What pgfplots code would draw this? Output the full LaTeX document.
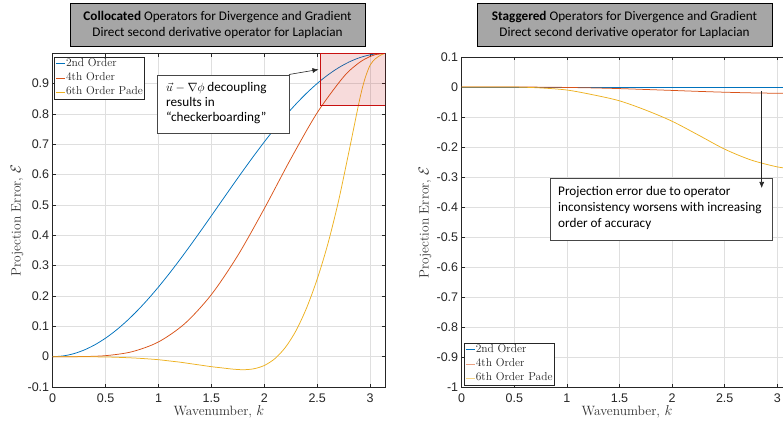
\documentclass[border=0pt]{standalone}
\usepackage{pgfplots}
\pgfplotsset{compat=1.18}
\usepackage{fontspec}
\newfontfamily\arialf{Liberation Sans}
\newfontfamily\calf{Carlito}
\usetikzlibrary{arrows.meta}

\definecolor{mblue}{RGB}{0,114,189}
\definecolor{morange}{RGB}{217,83,25}
\definecolor{myellow}{RGB}{237,177,32}
\definecolor{axgray}{RGB}{38,38,38}
\definecolor{titlegray}{RGB}{166,166,166}
\definecolor{boxred}{RGB}{200,16,16}
\definecolor{annogray}{RGB}{70,70,70}

\pgfplotsset{
 mystyle/.style={
  scale only axis,
  xmin=0, xmax=3.14159,
  axis line style={axgray, line width=0.7pt},
  grid=major, grid style={gray!25, line width=0.6pt},
  tick style={axgray, line width=0.6pt},
  major tick length=3.5pt,
  tick align=inside,
  xtick={0,0.5,1,1.5,2,2.5,3},
  xticklabels={0,0.5,1,1.5,2,2.5,3},
  tick label style={font=\arialf\fontsize{12.5}{14}\selectfont, text=axgray},
  xticklabel style={yshift=-3pt},
  label style={font=\fontsize{13.5}{16}\selectfont, text=black!80},
  xlabel={Wavenumber, $k$},
  ylabel={Projection Error, $\mathcal{E}$},
  legend style={draw=axgray, line width=0.6pt, fill=white,
    font=\fontsize{11.5}{13}\selectfont, text=black!85,
    cells={anchor=west}, inner xsep=1pt, inner ysep=1pt, row sep=2.5pt,
    nodes={inner sep=0.6pt, text height=8pt, text depth=2.5pt}},
  legend image code/.code={\draw[#1, line width=0.9pt] (0pt,0pt) -- (9pt,0pt);},
  every axis plot/.append style={line width=0.75pt, smooth},
 }
}

\begin{document}
\begin{tikzpicture}

% ---------------- Left: Collocated ----------------
\begin{axis}[mystyle,
  at={(52.7pt,36pt)}, anchor=south west,
  width=332.4pt, height=333.7pt,
  ymin=-0.1, ymax=1,
  ytick={-0.1,0,0.1,0.2,0.3,0.4,0.5,0.6,0.7,0.8,0.9},
  yticklabels={-0.1,0,0.1,0.2,0.3,0.4,0.5,0.6,0.7,0.8,0.9},
  xlabel style={at={(axis description cs:0.5,-0.0734)}, anchor=center},
  ylabel style={at={(axis description cs:-0.1074,0.5)}, anchor=center},
  legend style={at={(0.0048,0.9898)}, anchor=north west},
]
\addplot[mblue] coordinates {
(0,0) (0.1,0.002498) (0.2,0.009967) (0.3,0.022332) (0.4,0.039470)
(0.5,0.061209) (0.6,0.087332) (0.7,0.117579) (0.8,0.151647) (0.9,0.189195)
(1.0,0.229849) (1.1,0.273201) (1.2,0.318821) (1.3,0.366250) (1.4,0.415016)
(1.5,0.464631) (1.6,0.514600) (1.7,0.564422) (1.8,0.613601) (1.9,0.661645)
(2.0,0.708073) (2.1,0.752423) (2.2,0.794250) (2.3,0.833138) (2.4,0.868697)
(2.5,0.900572) (2.6,0.928444) (2.7,0.952036) (2.8,0.971111) (2.9,0.985479)
(3.0,0.994996) (3.1,0.999568) (3.14159,1)
};
\addlegendentry{2nd Order}
\addplot[morange] coordinates {
(0,0) (0.25,0.0002) (0.5,0.00335) (0.75,0.01634) (1.0,0.04863)
(1.25,0.10951) (1.5,0.20476) (1.75,0.33382) (2.0,0.48821) (2.25,0.65197)
(2.5,0.80414) (2.75,0.92279) (2.9,0.96999) (3.0,0.98960) (3.05,0.99564) (3.14159,1)
};
\addlegendentry{4th Order}
\addplot[myellow] coordinates {
(0,0) (0.1,0) (0.2,0) (0.3,-0.0003) (0.4,-0.0006) (0.5,-0.001)
(0.6,-0.002) (0.7,-0.0033) (0.8,-0.005) (0.9,-0.0073) (1.0,-0.010)
(1.1,-0.014) (1.2,-0.018) (1.3,-0.023) (1.4,-0.028) (1.5,-0.033)
(1.6,-0.037) (1.7,-0.041) (1.8,-0.043) (1.9,-0.040) (2.0,-0.029)
(2.1,-0.0065) (2.2,0.031) (2.3,0.086) (2.4,0.161) (2.5,0.256)
(2.6,0.371) (2.7,0.511) (2.8,0.676) (2.9,0.846) (2.95,0.915)
(3.0,0.961) (3.05,0.982) (3.1,0.994) (3.14159,1)
};
\addlegendentry{6th Order Pade}
\fill[boxred, fill opacity=0.15] (axis cs:2.53,0.827) rectangle (axis cs:3.14159,1);
\draw[boxred, line width=1.1pt] (axis cs:2.53,0.827) rectangle (axis cs:3.14159,1);
\end{axis}

% ---------------- Right: Staggered ----------------
\begin{axis}[mystyle,
  at={(461.7pt,35.7pt)}, anchor=south west,
  width=330.5pt, height=330.3pt,
  ymin=-1, ymax=0.1,
  ytick={-1,-0.9,-0.8,-0.7,-0.6,-0.5,-0.4,-0.3,-0.2,-0.1,0,0.1},
  yticklabels={-1,-0.9,-0.8,-0.7,-0.6,-0.5,-0.4,-0.3,-0.2,-0.1,0,0.1},
  xlabel style={at={(axis description cs:0.5,-0.0733)}, anchor=center},
  ylabel style={at={(axis description cs:-0.111,0.5)}, anchor=center},
  legend style={at={(0.007,0.006)}, anchor=south west},
]
\addplot[mblue, forget plot] coordinates {(0,0) (1.5,0) (3.14159,0)};
\addplot[morange, forget plot] coordinates {
(0,0) (0.5,-0.0001) (0.75,-0.0004) (1.0,-0.0014) (1.25,-0.003) (1.5,-0.0052)
(1.75,-0.0082) (2.0,-0.0113) (2.25,-0.0145) (2.5,-0.0173) (2.75,-0.0195)
(3.0,-0.0207) (3.14159,-0.0208)
};
\addplot[myellow, forget plot] coordinates {
(0,0) (0.25,0) (0.5,0) (0.75,-0.003) (1.0,-0.010) (1.25,-0.026) (1.5,-0.046)
(1.75,-0.077) (2.0,-0.114) (2.25,-0.160) (2.5,-0.207) (2.75,-0.243)
(3.0,-0.266) (3.14159,-0.272)
};
\addlegendimage{mblue}
\addlegendentry{2nd Order}
\addlegendimage{morange!55!white}
\addlegendentry{4th Order}
\addlegendimage{myellow!55!white}
\addlegendentry{6th Order Pade}
\end{axis}

% ---------------- Titles ----------------
\node[draw=black, line width=0.8pt, fill=titlegray, minimum width=295pt, minimum height=43pt,
  align=center, inner sep=0pt, font=\calf\fontsize{13.2}{16}\selectfont]
  at (217.5pt,398.5pt) {\textbf{Collocated} Operators for Divergence and Gradient\\Direct second derivative operator for Laplacian};
\node[draw=black, line width=0.8pt, fill=titlegray, minimum width=295pt, minimum height=43pt,
  align=center, inner sep=0pt, font=\calf\fontsize{13.2}{16}\selectfont]
  at (624.5pt,398.5pt) {\textbf{Staggered} Operators for Divergence and Gradient\\Direct second derivative operator for Laplacian};

% ---------------- Annotations ----------------
\draw[annogray, line width=0.9pt, fill=white] (157pt,348pt) rectangle (289pt,290pt);
\node[anchor=west, align=left, inner sep=0pt, font=\calf\fontsize{13.2}{15}\selectfont]
  at (166pt,320pt) {$\vec{u}-\nabla\phi$ decoupling\\results in\\“checkerboarding”};
\draw[-{Latex[length=6pt,width=5pt]}, line width=0.6pt, black!85] (289pt,348.5pt) -- (318.5pt,353.5pt);

\draw[annogray, line width=0.9pt, fill=white] (550pt,244.3pt) rectangle (772pt,182.3pt);
\node[anchor=west, align=left, inner sep=0pt, font=\calf\fontsize{13.2}{16}\selectfont]
  at (558pt,214.7pt) {Projection error due to operator\\inconsistency worsens with increasing\\order of accuracy};
\draw[-{Latex[length=6pt,width=5pt]}, line width=0.6pt, black!85] (761.7pt,332pt) -- (761.7pt,235pt);

\pgfresetboundingbox
\useasboundingbox (0pt,0pt) rectangle (783pt,423pt);
\end{tikzpicture}
\end{document}
